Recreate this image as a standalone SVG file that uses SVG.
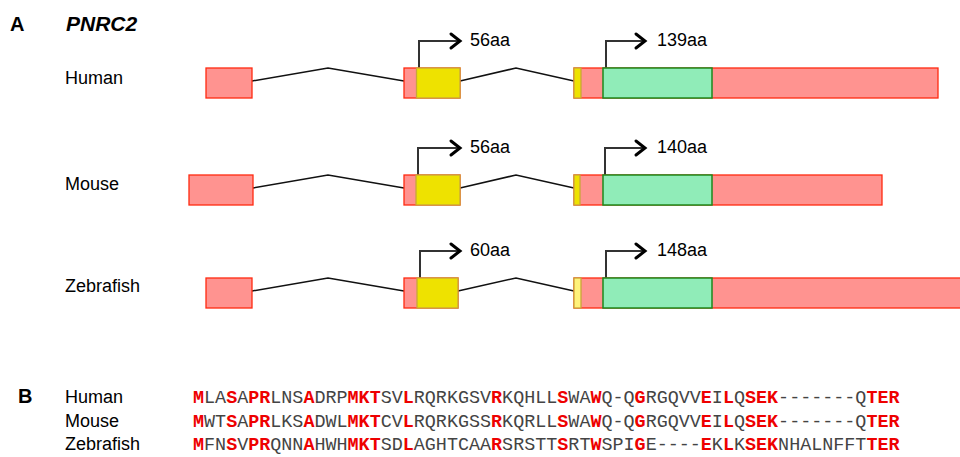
<svg xmlns="http://www.w3.org/2000/svg" width="960" height="457" viewBox="0 0 960 457">
<style>
text{font-family:"Liberation Sans",Arial,sans-serif;fill:#000}
.lbl{font-size:18px}
.hd{font-size:20px;font-weight:bold}
.aa{font-size:18px}
.ex{fill:#ff9390;stroke:#ff2a10;stroke-width:1.3}
.y{fill:#eee200;stroke:#c9a53a;stroke-width:1.3}
.py{fill:#fff27a;stroke:#c9a53a;stroke-width:1.3}
.g{fill:#90ecb8;stroke:#1d8a1d;stroke-width:1.5}
.intr{fill:none;stroke:#111;stroke-width:1.5}
.tss{fill:none;stroke:#333;stroke-width:2}
.ah{fill:none;stroke:#000;stroke-width:3;stroke-linecap:round;stroke-linejoin:miter}
.seq{font-family:"Liberation Mono","Courier New",monospace;font-size:18.4px;fill:#444}
.r{fill:#ee0000;font-weight:bold}
</style>
<g id="panelA-title">
<text class="hd" x="10" y="31">A</text>
<text class="hd" x="66" y="31" font-style="italic" style="font-size:21px">PNRC2</text>
</g>
<g id="human-label"><text class="lbl" x="65" y="84">Human</text></g>
<g id="mouse-label"><text class="lbl" x="65" y="190">Mouse</text></g>
<g id="zebrafish-label"><text class="lbl" x="65" y="292">Zebrafish</text></g>

<g id="connectors">
<polyline class="intr" points="252,81 328,68 404,81"/>
<polyline class="intr" points="460,81 516,68 574,81"/>
<polyline class="intr" points="253,188 328,175 404,188"/>
<polyline class="intr" points="460,188 516,175 574,188"/>
<polyline class="intr" points="252,291 328,278 404,291"/>
<polyline class="intr" points="458,291 516,278 574,291"/>
<polyline class="tss" points="419,68 419,41 459,41"/>
<polyline class="ah" points="451,34 460,41 451,48"/>
<polyline class="tss" points="606,68 606,41 644,41"/>
<polyline class="ah" points="636,34 645,41 636,48"/>
<polyline class="tss" points="418,175 418,148 459,148"/>
<polyline class="ah" points="451,141 460,148 451,155"/>
<polyline class="tss" points="605,175 605,148 644,148"/>
<polyline class="ah" points="636,141 645,148 636,155"/>
<polyline class="tss" points="420,278 420,251 459,251"/>
<polyline class="ah" points="451,244 460,251 451,258"/>
<polyline class="tss" points="606,278 606,251 644,251"/>
<polyline class="ah" points="636,244 645,251 636,258"/>
</g>

<g id="human-exon1"><rect class="ex" x="206" y="68" width="46" height="30"/></g>
<g id="human-exon2"><rect class="ex" x="404" y="68" width="56" height="30"/><rect class="y" x="416.5" y="68" width="43.5" height="30"/></g>
<g id="human-exon3"><rect class="ex" x="574" y="68" width="364" height="30"/><rect class="y" x="574" y="68" width="7" height="30"/><rect class="g" x="603" y="68" width="109" height="30"/></g>
<g id="human-orf1"><text class="aa" x="470" y="46">56aa</text></g>
<g id="human-orf2"><text class="aa" x="657" y="46">139aa</text></g>

<g id="mouse-exon1"><rect class="ex" x="189" y="175" width="64" height="30"/></g>
<g id="mouse-exon2"><rect class="ex" x="404" y="175" width="56" height="30"/><rect class="y" x="416" y="175" width="44" height="30"/></g>
<g id="mouse-exon3"><rect class="ex" x="574" y="175" width="308" height="30"/><rect class="y" x="574" y="175" width="6" height="30"/><rect class="g" x="603" y="175" width="109" height="30"/></g>
<g id="mouse-orf1"><text class="aa" x="470" y="153">56aa</text></g>
<g id="mouse-orf2"><text class="aa" x="657" y="153">140aa</text></g>

<g id="zebrafish-exon1"><rect class="ex" x="206" y="278" width="46" height="30"/></g>
<g id="zebrafish-exon2"><rect class="ex" x="404" y="278" width="54" height="30"/><rect class="y" x="417" y="278" width="41" height="30"/></g>
<g id="zebrafish-exon3"><rect class="ex" x="574" y="278" width="400" height="30"/><rect class="py" x="574" y="278" width="7" height="30"/><rect class="g" x="603" y="278" width="109" height="30"/></g>
<g id="zebrafish-orf1"><text class="aa" x="470" y="256">60aa</text></g>
<g id="zebrafish-orf2"><text class="aa" x="657" y="256">148aa</text></g>

<g id="panelB">
<text class="hd" x="18" y="403">B</text>
<text class="lbl" x="65" y="403">Human</text>
<text class="lbl" x="65" y="427">Mouse</text>
<text class="lbl" x="65" y="450">Zebrafish</text>
<text class="seq" x="193" y="403"><tspan class="r">M</tspan>LA<tspan class="r">S</tspan>A<tspan class="r">PR</tspan>LNS<tspan class="r">A</tspan>DRP<tspan class="r">MKT</tspan>SV<tspan class="r">L</tspan>RQRKGSV<tspan class="r">R</tspan>KQHLL<tspan class="r">S</tspan>WA<tspan class="r">W</tspan>Q-Q<tspan class="r">G</tspan>RGQVV<tspan class="r">E</tspan>I<tspan class="r">L</tspan>Q<tspan class="r">SEK</tspan>-------Q<tspan class="r">TER</tspan></text>
<text class="seq" x="193" y="427"><tspan class="r">M</tspan>WT<tspan class="r">S</tspan>A<tspan class="r">PR</tspan>LKS<tspan class="r">A</tspan>DWL<tspan class="r">MKT</tspan>CV<tspan class="r">L</tspan>RQRKGSS<tspan class="r">R</tspan>KQRLL<tspan class="r">S</tspan>WA<tspan class="r">W</tspan>Q-Q<tspan class="r">G</tspan>RGQVV<tspan class="r">E</tspan>I<tspan class="r">L</tspan>Q<tspan class="r">SEK</tspan>-------Q<tspan class="r">TER</tspan></text>
<text class="seq" x="193" y="450"><tspan class="r">M</tspan>FN<tspan class="r">S</tspan>V<tspan class="r">PR</tspan>QNN<tspan class="r">A</tspan>HWH<tspan class="r">MKT</tspan>SD<tspan class="r">L</tspan>AGHTCAA<tspan class="r">R</tspan>SRSTT<tspan class="r">S</tspan>RT<tspan class="r">W</tspan>SPI<tspan class="r">G</tspan>E----<tspan class="r">E</tspan>K<tspan class="r">L</tspan>K<tspan class="r">SEK</tspan>NHALNFFT<tspan class="r">TER</tspan></text>
</g>
</svg>
